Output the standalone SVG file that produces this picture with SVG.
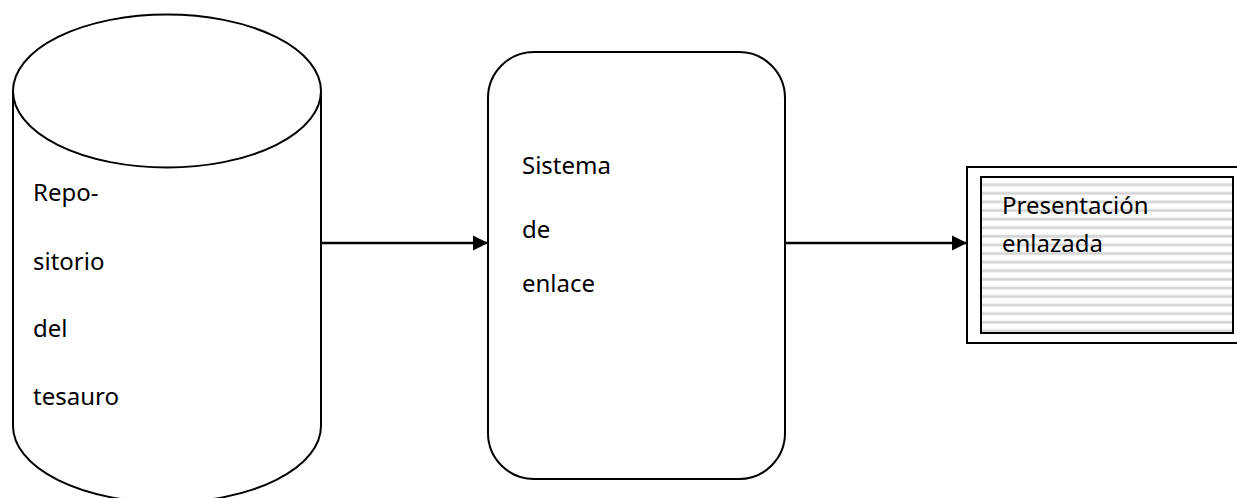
<svg xmlns="http://www.w3.org/2000/svg" width="1237" height="498" viewBox="0 0 1237 498">
  <style>
    .shape { fill: #ffffff; stroke: #000000; stroke-width: 2; }
    .label { font-family: "Noto Sans", "Open Sans", "Liberation Sans", sans-serif; font-size: 24px; fill: #000000; }
    .conn { stroke: #000000; stroke-width: 2.5; fill: none; }
  </style>
  <defs>
    <marker id="arrowHead" markerUnits="userSpaceOnUse" markerWidth="16" markerHeight="16" viewBox="0 0 16 16" refX="15" refY="8" orient="auto">
      <path d="M0,0.5 L15,8 L0,15.5 Z" fill="#000000"/>
    </marker>
    <pattern id="stripes" patternUnits="userSpaceOnUse" x="0" y="0" width="8" height="8.6">
      <rect x="0" y="0" width="8" height="8.6" fill="#ffffff"/>
      <rect x="0" y="2.5" width="8" height="3.2" fill="#e3e3e3"/>
      <rect x="0" y="3.3" width="8" height="1.6" fill="#d4d4d4"/>
    </pattern>
  </defs>

  <!-- thesaurus repository (cylinder) -->
  <g id="repositorio">
    <path class="shape" d="M13,91 L13,426 A154,76.5 0 0 0 321,426 L321,91"/>
    <ellipse class="shape" cx="167" cy="91" rx="154" ry="76.5"/>
    <text class="label" x="33" y="201">Repo-</text>
    <text class="label" x="33" y="270">sitorio</text>
    <text class="label" x="33" y="337">del</text>
    <text class="label" x="33" y="405">tesauro</text>
  </g>

  <!-- linking system (rounded process box) -->
  <g id="sistema">
    <rect class="shape" x="488" y="52" width="297" height="427" rx="46" ry="46"/>
    <text class="label" x="522" y="174">Sistema</text>
    <text class="label" x="522" y="238">de</text>
    <text class="label" x="522" y="292">enlace</text>
  </g>

  <!-- linked presentation (framed document) -->
  <g id="presentacion">
    <rect class="shape" x="967" y="167" width="280" height="176"/>
    <rect x="981" y="177" width="252" height="156" fill="url(#stripes)" stroke="#000000" stroke-width="2"/>
    <text class="label" x="1002" y="214">Presentación</text>
    <text class="label" x="1002" y="252">enlazada</text>
  </g>

  <!-- connectors -->
  <g id="connectors">
    <line class="conn" x1="321" y1="243" x2="488" y2="243" marker-end="url(#arrowHead)"/>
    <line class="conn" x1="785" y1="243" x2="967" y2="243" marker-end="url(#arrowHead)"/>
  </g>
</svg>
